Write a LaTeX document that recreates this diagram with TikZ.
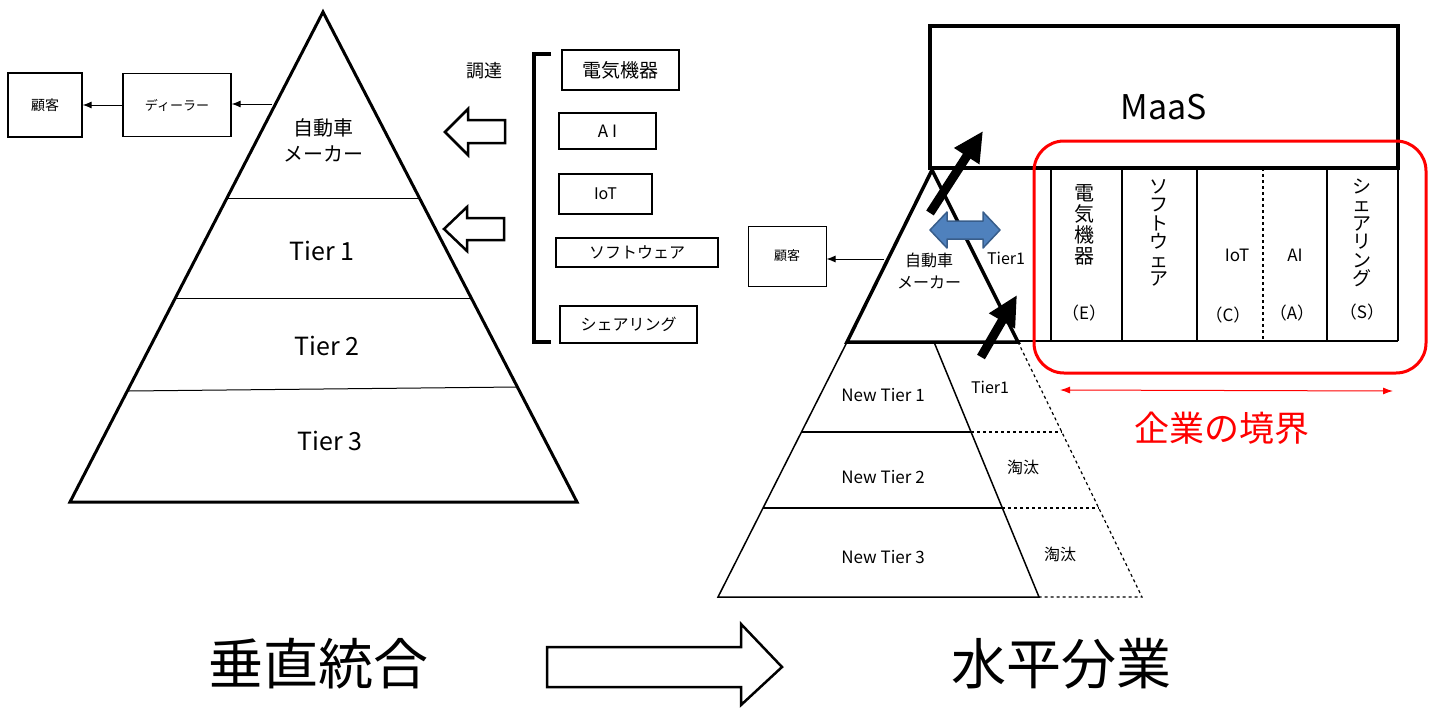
\documentclass[tikz,border=0pt]{standalone}
\usepackage{fontspec}
\setmainfont{Noto Sans CJK JP}
\usetikzlibrary{arrows.meta,calc}
\newcommand\fsz[2]{\fontsize{#1}{#2}\selectfont}
\definecolor{steelblu}{HTML}{4F81BD}
\definecolor{steeldark}{HTML}{385D8A}
\begin{document}
\begin{tikzpicture}[x=1pt,y=-1pt,
  txt/.style={inner sep=0pt,align=center},
  box/.style={draw,line width=1.2pt,inner sep=0pt},
  thin/.style={line width=1pt},
  smallarr/.style={line width=1pt,-{Latex[length=9pt,width=7pt]}},
  hollow/.style={draw,line width=2.5pt,fill=white,line join=miter},
  bigarr/.style={line width=9pt,-{Triangle[length=30pt,width=28pt]}},
]
\useasboundingbox (0,0) rectangle (1434,707);

% ---------------- left pyramid ----------------
\coordinate (LA) at (323,12);
\coordinate (LL) at (70,502);
\coordinate (LR) at (577,502);
\draw[line width=3pt,line join=miter] (LA) -- (LR) -- (LL) -- cycle;
\draw[thin] ($(LA)!0.3816!(LL)$) -- ($(LA)!0.3816!(LR)$);
\draw[thin] ($(LA)!0.5837!(LL)$) -- ($(LA)!0.5837!(LR)$);
\draw[thin] ($(LA)!0.7735!(LL)$) -- ($(LA)!0.7653!(LR)$);
\node[txt,font=\fsz{20}{26}] (mk1) at (323,140) {自動車\\メーカー};
\node[txt,font=\fsz{25}{28}] (t1) at (322,251) {Tier 1};
\node[txt,font=\fsz{25}{28}] (t2) at (327,346) {Tier 2};
\node[txt,font=\fsz{25}{28}] (t3) at (330,441) {Tier 3};

% customer / dealer
\node[box,minimum width=74pt,minimum height=64pt,font=\fsz{14}{16}] (cust1) at (45,105) {顧客};
\node[box,minimum width=108pt,minimum height=63pt,font=\fsz{13}{16}] (dealer) at (177,105) {ディーラー};
\coordinate (mkout) at (272,104);
\draw[smallarr] (mkout) -- (dealer.east |- mkout);
\draw[smallarr] (dealer.west) -- (cust1.east);

% procurement
\node[txt,font=\fsz{18}{20}] (chotatsu) at (484,71) {調達};
\coordinate (brT) at (534,54);
\coordinate (brB) at (534,342);
\draw[line width=4pt,line join=miter] ($(brT)+(17,0)$) -- (brT) -- (brB) -- ($(brB)+(17,0)$);
\node[box,minimum width=117pt,minimum height=40pt,font=\fsz{19}{22}] (denki) at (620.5,70) {電気機器};
\node[box,minimum width=97pt,minimum height=36pt,font=\fsz{17}{20}] (ai) at (607.5,131) {A I};
\node[box,minimum width=93pt,minimum height=40pt,font=\fsz{16}{20}] (iot) at (605.5,194) {IoT};
\node[box,minimum width=162pt,minimum height=29pt,font=\fsz{16}{20}] (soft) at (637,252.5) {ソフトウェア};
\node[box,minimum width=137pt,minimum height=37pt,font=\fsz{16}{20}] (share) at (628.5,324.5) {シェアリング};

% hollow left arrows
\draw[hollow] (445,132) -- (468,109) -- (468,120) -- (505,120) -- (505,143) -- (468,143) -- (468,155) -- cycle;
\draw[hollow] (444,229) -- (467,207) -- (467,218) -- (504,218) -- (504,240) -- (467,240) -- (467,251) -- cycle;

% ---------------- right: MaaS ----------------
\node[draw,line width=4pt,minimum width=468pt,minimum height=142pt,inner sep=0pt] (maas) at (1164,97) {};
\node[txt,font=\fsz{34}{38}] (maastxt) at (1164,107) {MaaS};

% columns
\coordinate (colBL) at (1018,341);
\coordinate (colBR) at (1398,341);
\draw[line width=1.3pt] (colBL) -- (colBR);
\foreach \x in {1051,1122,1197,1327,1398}{
  \draw[line width=1.3pt] (\x,168) -- (\x,341);
}
\draw[line width=1.3pt,dashed] (1263,168) -- (1263,341);
\node[txt,font=\fsz{20}{21}] (vdenki) at (1084,225) {電\\気\\機\\器};
\node[txt,font=\fsz{17}{20}] (pe) at (1084,313) {（E）};
\node[txt,font=\fsz{19}{18.5}] (vsoft) at (1159,233) {ソ\\フ\\ト\\ウ\\ェ\\ア};
\node[txt,font=\fsz{17}{20}] (viot) at (1237,255) {IoT};
\node[txt,font=\fsz{17}{20}] (pc) at (1228,315) {（C）};
\node[txt,font=\fsz{17}{20}] (vai) at (1295,255) {AI};
\node[txt,font=\fsz{17}{20}] (pa) at (1292,313) {（A）};
\node[txt,font=\fsz{19}{18.5}] (vshare) at (1362,233) {シ\\ェ\\ア\\リ\\ン\\グ};
\node[txt,font=\fsz{17}{20}] (ps) at (1362,312) {（S）};

% red boundary
\draw[red,line width=3pt,rounded corners=30pt] (1034,141) rectangle (1426,373);
\coordinate (rbL) at (1060,390);
\coordinate (rbR) at (1393,391);
\draw[red,line width=1pt,{Latex[length=10pt,width=7pt]}-{Latex[length=10pt,width=7pt]}] (rbL) -- (rbR);
\node[txt,red,font=\fsz{35}{38}] (kyokai) at (1222,428) {企業の境界};

% small pyramid (car maker)
\coordinate (SA) at (932,170);
\coordinate (SL) at (847,342);
\coordinate (SR) at (1018,342);
\draw[line width=3.5pt,line join=miter] (SA) -- (SR) -- (SL) -- cycle;
\node[txt,font=\fsz{16}{22}] (mk2) at (929,271) {自動車\\メーカー};
\node[txt,font=\fsz{16}{20}] (tier1a) at (1006,258) {Tier1};
\node[box,line width=1pt,minimum width=78pt,minimum height=60pt,font=\fsz{13}{16}] (cust2) at (787,256) {顧客};
\coordinate (mk2out) at (884,259);
\draw[smallarr] (mk2out) -- (cust2.east |- mk2out);

% blue double arrow
\draw[fill=steelblu,draw=steeldark,line width=1.5pt,line join=round] (930,230) -- (947,212) -- (947,221) -- (983,221) -- (983,212) -- (1000,230) -- (983,248) -- (983,239) -- (947,239) -- (947,248) -- cycle;

% lower trapezoid (new tiers)
\coordinate (TL) at (847,342);
\coordinate (TBL) at (718,597);
\coordinate (TI) at (934,342);
\coordinate (TBI) at (1039,597);
\coordinate (TO) at (1018,342);
\coordinate (TBO) at (1142,597);
\draw[line width=1.5pt] (TL) -- (TBL) -- (TBI) -- (TI);
\draw[line width=1.2pt,dashed] (TO) -- (TBO) -- (TBI);
\draw[line width=2pt] ($(TL)!0.353!(TBL)$) -- ($(TI)!0.353!(TBI)$);
\draw[line width=1.2pt,dashed] ($(TI)!0.353!(TBI)$) -- ($(TO)!0.353!(TBO)$);
\draw[line width=2pt] ($(TL)!0.651!(TBL)$) -- ($(TI)!0.651!(TBI)$);
\draw[line width=1.2pt,dashed] ($(TI)!0.651!(TBI)$) -- ($(TO)!0.651!(TBO)$);
\node[txt,font=\fsz{17}{20}] (nt1) at (883,395) {New Tier 1};
\node[txt,font=\fsz{17}{20}] (nt2) at (883,477) {New Tier 2};
\node[txt,font=\fsz{17}{20}] (nt3) at (883,557) {New Tier 3};
\node[txt,font=\fsz{16}{20}] (tier1b) at (990,387) {Tier1};
\node[txt,font=\fsz{16}{20}] (tota1) at (1023,467) {淘汰};
\node[txt,font=\fsz{16}{20}] (tota2) at (1060,554) {淘汰};

% thick black arrows
\coordinate (ba1s) at (930,213);
\coordinate (ba1e) at (983,131);
\coordinate (ba2s) at (981,357);
\coordinate (ba2e) at (1017,295);
\draw[bigarr] (ba1s) -- (ba1e);
\draw[bigarr] (ba2s) -- (ba2e);

% bottom labels
\node[txt,font=\fsz{55}{58}] (vert) at (318,664) {垂直統合};
\node[txt,font=\fsz{55}{58}] (horz) at (1061,664) {水平分業};
\draw[hollow] (547,647) -- (741,647) -- (741,624) -- (782,667) -- (741,705) -- (741,687) -- (547,687) -- cycle;
\end{tikzpicture}
\end{document}
